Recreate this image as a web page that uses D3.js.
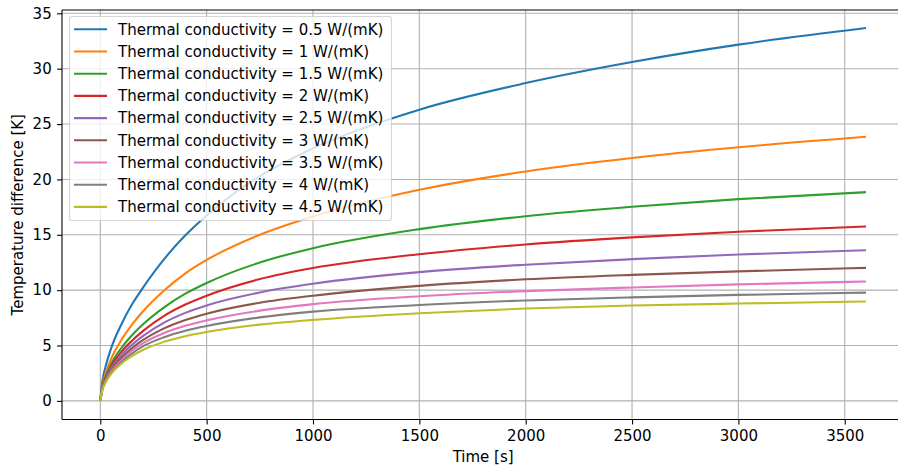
<!DOCTYPE html>
<html>
<head>
<meta charset="utf-8">
<script src="https://cdn.jsdelivr.net/npm/d3@7"></script>
<style>
  html, body { margin: 0; padding: 0; background: #ffffff; }
  svg { display: block; font-family: "DejaVu Sans", sans-serif; }
</style>
</head>
<body>
<svg id="chart" width="898" height="470"></svg>
<script>
// Sample times [s]
const times = [0, 10, 25, 50, 100, 150, 200, 300, 400, 500, 750, 1000, 1500, 2000, 2500, 3000, 3600];

// Temperature difference [K] for each thermal conductivity
const k05 = [0, 1.8, 3.1, 4.7, 6.95, 8.75, 10.2, 12.8, 14.95, 16.75, 20.3, 22.8, 26.3, 28.7, 30.6, 32.17, 33.67];
const k10 = [0, 1.46, 2.49, 3.76, 5.52, 6.9, 8.07, 9.97, 11.52, 12.73, 15.0, 16.65, 19.06, 20.72, 21.93, 22.9, 23.85];
const k15 = [0, 1.3, 2.2, 3.3, 4.8, 5.95, 6.9, 8.45, 9.68, 10.65, 12.5, 13.79, 15.51, 16.68, 17.53, 18.22, 18.85];
const k20 = [0, 1.22, 2.06, 3.08, 4.45, 5.45, 6.3, 7.68, 8.7, 9.5, 11.0, 12.0, 13.25, 14.13, 14.77, 15.28, 15.75];
const k25 = [0, 1.16, 1.95, 2.9, 4.15, 5.08, 5.85, 7.07, 7.95, 8.62, 9.79, 10.58, 11.63, 12.3, 12.8, 13.22, 13.61];
const k30 = [0, 1.11, 1.86, 2.75, 3.9, 4.77, 5.48, 6.55, 7.3, 7.87, 8.86, 9.5, 10.39, 10.98, 11.38, 11.7, 12.01];
const k35 = [0, 1.07, 1.78, 2.62, 3.68, 4.55, 5.2, 6.13, 6.78, 7.27, 8.15, 8.74, 9.45, 9.91, 10.24, 10.52, 10.78];
const k40 = [0, 1.03, 1.72, 2.52, 3.52, 4.3, 4.92, 5.75, 6.33, 6.76, 7.54, 8.06, 8.66, 9.07, 9.35, 9.57, 9.78];
const k45 = [0, 0.99, 1.66, 2.42, 3.38, 4.06, 4.6, 5.33, 5.84, 6.22, 6.89, 7.32, 7.92, 8.34, 8.61, 8.79, 8.97];

const seriesValues = [k05, k10, k15, k20, k25, k30, k35, k40, k45];
const seriesLabels = [
  "Thermal conductivity = 0.5 W/(mK)",
  "Thermal conductivity = 1 W/(mK)",
  "Thermal conductivity = 1.5 W/(mK)",
  "Thermal conductivity = 2 W/(mK)",
  "Thermal conductivity = 2.5 W/(mK)",
  "Thermal conductivity = 3 W/(mK)",
  "Thermal conductivity = 3.5 W/(mK)",
  "Thermal conductivity = 4 W/(mK)",
  "Thermal conductivity = 4.5 W/(mK)"
];
const seriesColors = ["#1f77b4", "#ff7f0e", "#2ca02c", "#d62728", "#9467bd",
                      "#8c564b", "#e377c2", "#7f7f7f", "#bcbd22"];

const xTicks = [0, 500, 1000, 1500, 2000, 2500, 3000, 3500];
const yTicks = [0, 5, 10, 15, 20, 25, 30, 35];

const xLabel = "Time [s]";
const yLabel = "Temperature difference [K]";

// Plot area
const plotLeft = 62, plotTop = 10, plotRight = 904.3, plotBottom = 419.5;
const fontSize = 15;

const svg = d3.select("#chart");

const x = d3.scaleLinear().domain([-180, 3780]).range([plotLeft, plotRight]);
const y = d3.scaleLinear().domain([-1.68, 35.3]).range([plotBottom, plotTop]);

// Grid
const grid = svg.append("g").attr("stroke", "#b0b0b0").attr("stroke-width", 1.1);
grid.selectAll("line.gx").data(xTicks).join("line").attr("class", "gx")
  .attr("x1", d => x(d)).attr("x2", d => x(d))
  .attr("y1", plotTop).attr("y2", plotBottom);
grid.selectAll("line.gy").data(yTicks).join("line").attr("class", "gy")
  .attr("x1", plotLeft).attr("x2", plotRight)
  .attr("y1", d => y(d)).attr("y2", d => y(d));

// Curves
const line = d3.line()
  .x((d, i) => x(times[i]))
  .y(d => y(d))
  .curve(d3.curveMonotoneX);

svg.append("g").selectAll("path").data(seriesValues).join("path")
  .attr("d", d => line(d))
  .attr("fill", "none")
  .attr("stroke", (d, i) => seriesColors[i])
  .attr("stroke-width", 2.1)
  .attr("stroke-linejoin", "round")
  .attr("stroke-linecap", "butt");

// Axes
const xAxis = d3.axisBottom(x).tickValues(xTicks).tickSize(4.9).tickPadding(6).tickFormat(d3.format("d"));
const yAxis = d3.axisLeft(y).tickValues(yTicks).tickSize(4.9).tickPadding(5.4).tickFormat(d3.format("d"));

const gx = svg.append("g").attr("transform", `translate(0,${plotBottom})`).call(xAxis);
const gy = svg.append("g").attr("transform", `translate(${plotLeft},0)`).call(yAxis);

[gx, gy].forEach(g => {
  g.select(".domain").remove();
  g.selectAll(".tick line").attr("stroke", "#000").attr("stroke-width", 1.1);
  g.selectAll(".tick text").attr("fill", "#000")
    .style("font-family", "'DejaVu Sans', sans-serif").style("font-size", fontSize + "px");
});

// Spines
const spines = svg.append("g").attr("stroke", "#000").attr("stroke-width", 1.1).attr("fill", "none");
spines.append("line").attr("x1", plotLeft).attr("x2", plotLeft).attr("y1", plotTop).attr("y2", plotBottom);
spines.append("line").attr("x1", plotLeft).attr("x2", plotRight).attr("y1", plotBottom).attr("y2", plotBottom);
spines.append("line").attr("x1", plotLeft).attr("x2", plotRight).attr("y1", plotTop).attr("y2", plotTop);
spines.append("line").attr("x1", plotRight).attr("x2", plotRight).attr("y1", plotTop).attr("y2", plotBottom);

// Axis labels
svg.append("text")
  .attr("x", (plotLeft + plotRight) / 2).attr("y", 462)
  .attr("text-anchor", "middle")
  .style("font-size", fontSize + "px")
  .text(xLabel);

svg.append("text")
  .attr("transform", `translate(22.5,${(plotTop + plotBottom) / 2}) rotate(-90)`)
  .attr("text-anchor", "middle")
  .style("font-size", fontSize + "px")
  .text(yLabel);

// Legend
const legX = 69.5, legY = 16.5, legW = 322, legH = 204, rowH = 22.2;
const legend = svg.append("g");
legend.append("rect")
  .attr("x", legX).attr("y", legY).attr("width", legW).attr("height", legH)
  .attr("rx", 2.8).attr("ry", 2.8)
  .attr("fill", "#ffffff").attr("fill-opacity", 0.8)
  .attr("stroke", "#cccccc").attr("stroke-opacity", 0.8).attr("stroke-width", 1.1);

const rows = legend.selectAll("g.row").data(seriesLabels).join("g").attr("class", "row")
  .attr("transform", (d, i) => `translate(0,${29.3 + i * rowH})`);
rows.append("line")
  .attr("x1", 74).attr("x2", 107).attr("y1", 0).attr("y2", 0)
  .attr("stroke", (d, i) => seriesColors[i]).attr("stroke-width", 2.1);
rows.append("text")
  .attr("x", 118).attr("y", 0).attr("dy", "0.35em")
  .style("font-size", fontSize + "px")
  .attr("fill", "#000")
  .text(d => d);
</script>
</body>
</html>
